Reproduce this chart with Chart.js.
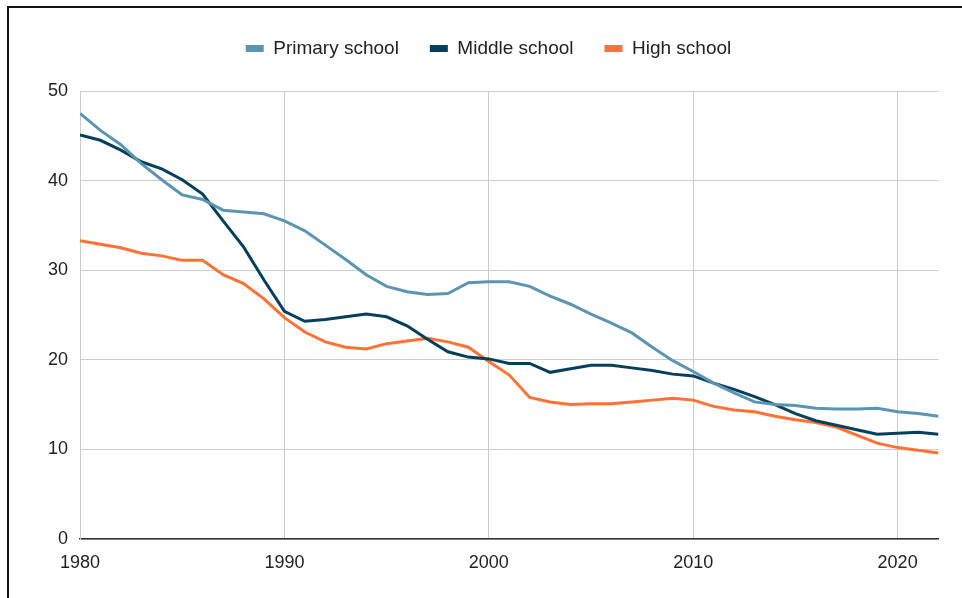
<!DOCTYPE html>
<html>
<head>
<meta charset="utf-8">
<script src="https://cdn.jsdelivr.net/npm/chart.js@4/dist/chart.umd.min.js"></script>
<style>
  html, body { margin: 0; padding: 0; background: #fff; }
  #wrap { position: relative; width: 962px; height: 598px; overflow: hidden; }
  #frame { position: absolute; left: 7px; top: 6px; width: 980px; height: 620px;
           border-top: 2px solid #111; border-left: 2px solid #111; pointer-events: none; }
  canvas { position: absolute; left: 0; top: 0; }
</style>
</head>
<body>
<div id="wrap">
  <canvas id="chart" width="962" height="598"></canvas>
  <div id="frame"></div>
</div>
<script>
const years = [];
for (let y = 1980; y <= 2022; y++) years.push(y);

const seriesNames = ['Primary school', 'Middle school', 'High school'];
const seriesColors = ['#5b95b2', '#063f5c', '#ff7134'];

const primary = [47.5, 45.6, 44.0, 41.9, 40.1, 38.4, 37.9, 36.7, 36.5, 36.3,
                 35.5, 34.4, 32.8, 31.2, 29.5, 28.2, 27.6, 27.3, 27.4, 28.6,
                 28.7, 28.7, 28.2, 27.1, 26.2, 25.1, 24.1, 23.0, 21.4, 19.9,
                 18.7, 17.4, 16.3, 15.3, 15.0, 14.9, 14.6, 14.5, 14.5, 14.6,
                 14.2, 14.0, 13.7];
const middle  = [45.1, 44.5, 43.4, 42.1, 41.3, 40.1, 38.5, 35.5, 32.6, 28.9,
                 25.4, 24.3, 24.5, 24.8, 25.1, 24.8, 23.8, 22.3, 20.9, 20.3,
                 20.1, 19.6, 19.6, 18.6, 19.0, 19.4, 19.4, 19.1, 18.8, 18.4,
                 18.2, 17.4, 16.7, 15.9, 15.0, 14.0, 13.2, 12.7, 12.2, 11.7,
                 11.8, 11.9, 11.7];
const high    = [33.3, 32.9, 32.5, 31.9, 31.6, 31.1, 31.1, 29.5, 28.5, 26.8,
                 24.7, 23.1, 22.0, 21.4, 21.2, 21.8, 22.1, 22.4, 22.0, 21.4,
                 19.8, 18.3, 15.8, 15.3, 15.0, 15.1, 15.1, 15.3, 15.5, 15.7,
                 15.5, 14.8, 14.4, 14.2, 13.7, 13.3, 13.0, 12.5, 11.6, 10.7,
                 10.2, 9.9, 9.6];

const xTicks = [1980, 1990, 2000, 2010, 2020];
const yTicks = [0, 10, 20, 30, 40, 50];

const values = [primary, middle, high];
const datasets = seriesNames.map((name, i) => ({
  label: name,
  data: years.map((yr, j) => ({ x: yr, y: values[i][j] })),
  borderColor: seriesColors[i],
  backgroundColor: seriesColors[i],
  borderWidth: 3,
  pointRadius: 0,
  tension: 0,
  fill: false
}));

const FONT = "'Liberation Sans', Arial, sans-serif";
Chart.defaults.font.family = FONT;
Chart.defaults.color = '#222';

// Leave a gap between the legend row and the plot area.
const LEGEND_GAP = 23;
const legendGap = {
  id: 'legendGap',
  beforeInit(chart) {
    const legend = chart.legend;
    if (!legend) return;
    const fit = legend.fit.bind(legend);
    legend.fit = function () { fit(); this.height += LEGEND_GAP; };
  }
};

new Chart(document.getElementById('chart'), {
  type: 'line',
  data: { datasets },
  plugins: [legendGap],
  options: {
    responsive: false,
    animation: false,
    layout: { padding: { top: 8, right: 23.5, bottom: 0, left: 38.5 } },
    plugins: {
      tooltip: { enabled: false },
      legend: {
        position: 'top',
        align: 'center',
        labels: {
          boxWidth: 18,
          boxHeight: 7,
          padding: 31,
          color: '#222',
          font: { size: 19, family: FONT },
          generateLabels(chart) {
            const items = Chart.defaults.plugins.legend.labels.generateLabels(chart);
            items.forEach(it => { it.lineWidth = 0; it.strokeStyle = it.fillStyle; });
            return items;
          }
        }
      }
    },
    scales: {
      x: {
        type: 'linear',
        min: years[0],
        max: years[years.length - 1],
        afterBuildTicks: (scale) => { scale.ticks = xTicks.map(v => ({ value: v })); },
        afterFit: (scale) => { scale.height = 59; },
        ticks: { padding: 13, color: '#222', font: { size: 18, family: FONT }, maxRotation: 0,
                 callback: (v) => String(v) },
        grid: { color: '#cccccc', lineWidth: 1, drawTicks: false },
        border: { color: '#333333', width: 1.5 }
      },
      y: {
        min: 0,
        max: 50,
        afterBuildTicks: (scale) => { scale.ticks = yTicks.map(v => ({ value: v })); },
        afterFit: (scale) => { scale.width = 41.5; },
        ticks: { padding: 12, color: '#222', font: { size: 18, family: FONT } },
        grid: { color: '#cccccc', lineWidth: 1, drawTicks: false },
        border: { color: '#cccccc', width: 1 }
      }
    }
  }
});
</script>
</body>
</html>
